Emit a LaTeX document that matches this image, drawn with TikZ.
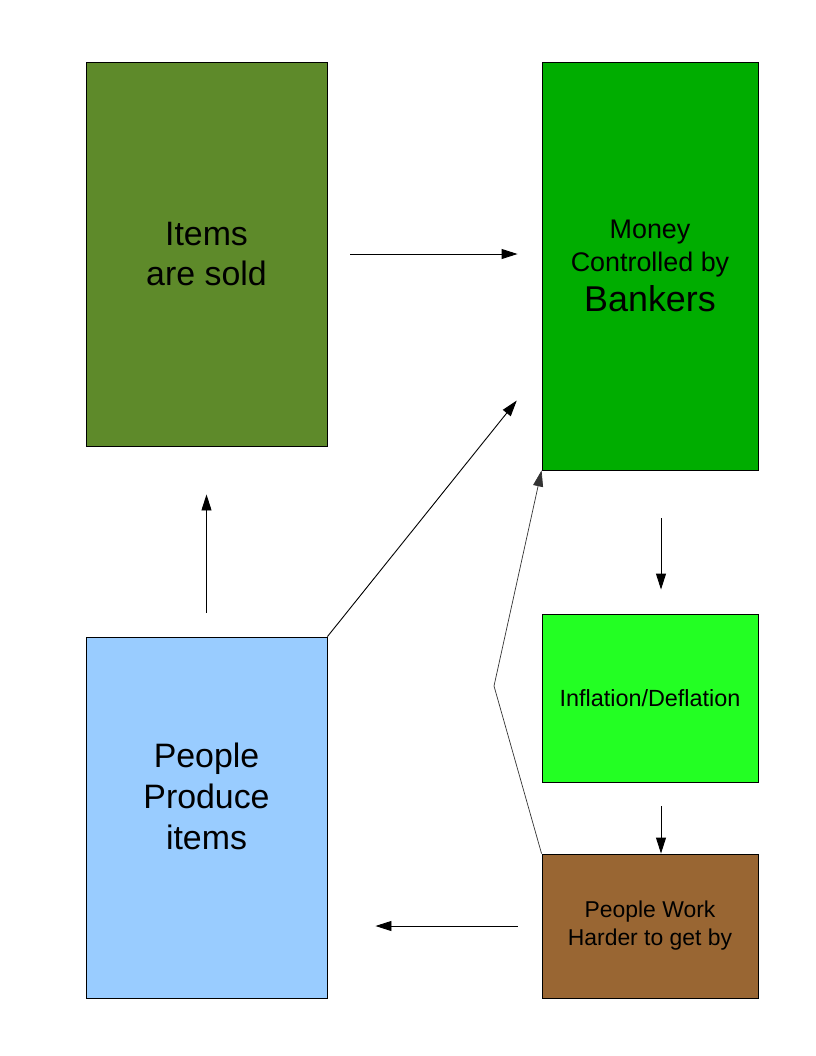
\documentclass[tikz,border=0pt]{standalone}
\usepackage{fontspec}
\setmainfont{Liberation Sans}
\usepackage{tikz}
\usetikzlibrary{arrows.meta,positioning}
\definecolor{olive}{HTML}{5E8A2A}
\definecolor{bankgreen}{HTML}{00AD00}
\definecolor{lime}{HTML}{23FF23}
\definecolor{toil}{HTML}{996633}
\definecolor{sky}{HTML}{99CCFF}
\newcommand{\fs}[2]{\fontsize{#1}{#2}\selectfont}
\tikzset{
  box/.style={rectangle, draw=black, line width=0.9bp, align=center, inner sep=0pt},
  bigbox/.style={box, minimum width=241bp, minimum height=384bp},
  sidebox/.style={box, minimum width=216bp},
  flow/.style={-{Triangle[length=16bp,width=10bp]}, draw=black, line width=0.9bp},
  thin/.style={draw=black!80, line width=0.7bp}
}
\begin{document}
\begin{tikzpicture}[x=1bp, y=-1bp]
  \useasboundingbox (0,0) rectangle (816,1056);
  \node[bigbox, fill=olive, font=\fs{34}{40}] (sold) at (206.5,254) {Items\\are sold};
  \node[sidebox, fill=bankgreen, minimum height=408bp, font=\fs{27}{33}] (bank) at (650,266)
    {Money\\Controlled by\\[8bp]{\fs{36}{40}Bankers}};
  \node[sidebox, fill=lime, minimum height=168bp, font=\fs{23.5}{28}] (infl) at (650,698) {Inflation/Deflation};
  \node[sidebox, fill=toil, minimum height=144bp, font=\fs{23}{28}] (work) at (650,926)
    {People Work\\Harder to get by};
  \node[box, fill=sky, minimum width=241bp, minimum height=361bp] (prod) at (206.5,817.5) {};
  \node[align=center, inner sep=0pt, font=\fs{34}{41}] (prodtxt) at ([yshift=21bp]prod.center)
    {People\\Produce\\items};
  % arrows
  \draw[flow, shorten <=23bp, shorten >=24bp] (sold.east |- 0,254) -- (bank.west |- 0,254);
  \draw[flow, shorten >=2bp] (prod.north east) -- (518,399);
  \draw[flow, shorten <=48bp, shorten >=24bp] ([xshift=11bp]bank.south) -- ([xshift=11bp]infl.north);
  \draw[flow, shorten <=24bp] ([xshift=11bp]infl.south) -- ([xshift=11bp]work.north);
  \draw[flow, shorten <=24bp, shorten >=48bp] (work.west) -- (prod.east |- work.west);
  \draw[flow, shorten <=24bp, shorten >=48bp] (prod.north) -- (sold.south);
  \coordinate (bend) at (494,686);
  \draw[thin, -{Triangle[length=16bp,width=10bp]}] (work.north west) -- (bend) -- (bank.south west);
\end{tikzpicture}
\end{document}
